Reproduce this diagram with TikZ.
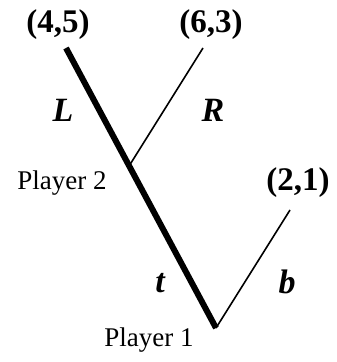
\documentclass[tikz,border=0pt]{standalone}
\usepackage{fontspec}
\setmainfont{Liberation Serif}
\usetikzlibrary{calc}
\begin{document}
\begin{tikzpicture}[x=0.5pt, y=-0.5pt]
\tikzset{
  payoff/.style={font=\fontsize{16.5}{18}\selectfont\bfseries},
  move/.style={font=\fontsize{17}{19}\selectfont\bfseries\itshape},
  player/.style={font=\fontsize{13.5}{16}\selectfont},
}
\useasboundingbox (0,0) rectangle (336,362);

% decision nodes and end points
\coordinate (p1) at (216,328);
\coordinate (endL) at (66,48);
\coordinate (p2) at ($(p1)!0.579!(endL)$);
\coordinate (endR) at (203,48);
\coordinate (endb) at (290,210);

% draw branches
\draw [line width=3pt] (p1) -- (p2) -- (endL);
\draw [line width=0.8pt] (p2) -- (endR);
\draw [line width=0.8pt] (p1) -- (endb);

% payoffs
\node [payoff] (u45) at (58,25) {(4,5)};
\node [payoff] (u63) at (211,25) {(6,3)};
\node [payoff] (u21) at (298,183) {(2,1)};

% moves
\node [move] (mL) at (63,110) {L};
\node [move] (mR) at (213,110) {R};
\node [move] (mt) at (160,283) {t};
\node [move] (mb) at (287,282) {b};

% players
\node [player] (pl2) at (62,183) {Player 2};
\node [player] (pl1) at (149,340) {Player 1};

\end{tikzpicture}
\end{document}
